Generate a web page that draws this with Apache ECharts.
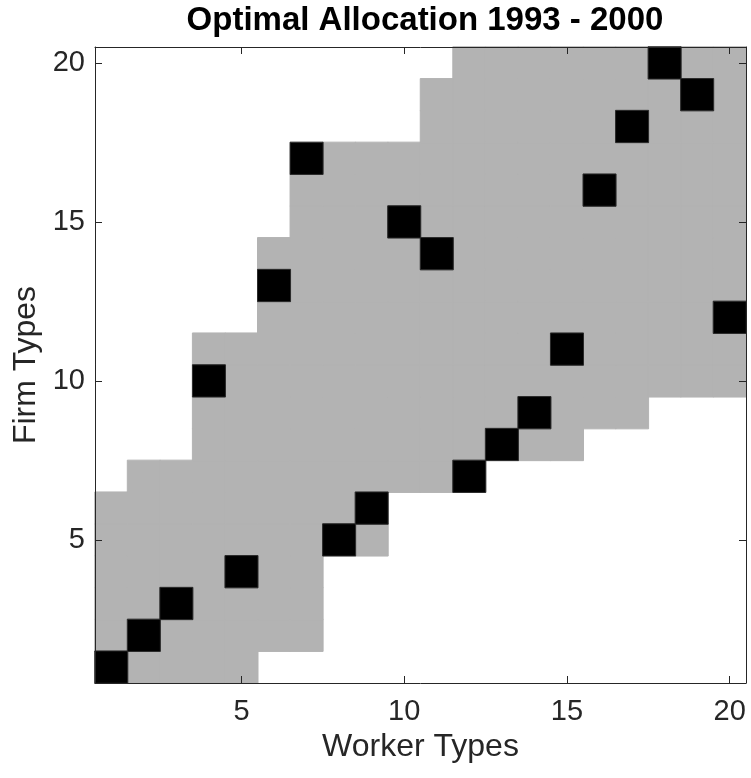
<!DOCTYPE html>
<html>
<head>
<meta charset="utf-8">
<script src="https://cdn.jsdelivr.net/npm/echarts@6/dist/echarts.min.js"></script>
<style>
  html, body { margin: 0; padding: 0; background: #fff; }
  #chart { width: 751px; height: 778px; }
</style>
</head>
<body>
<div id="chart"></div>
<script>
// categories (1..20 on both axes)
const workerTypes = ['1', '2', '3', '4', '5', '6', '7', '8', '9', '10',
  '11', '12', '13', '14', '15', '16', '17', '18', '19', '20']
const firmTypes = ['1', '2', '3', '4', '5', '6', '7', '8', '9', '10',
  '11', '12', '13', '14', '15', '16', '17', '18', '19', '20']

// feasible (grey) firm range per worker type, read column by column
const greyFrom = [1, 1, 1, 1, 1, 2, 2, 5, 5, 7, 7, 7, 8, 8, 8, 9, 9, 10, 10, 10]
const greyTo = [6, 7, 7, 11, 11, 14, 17, 17, 17, 17, 19, 20, 20, 20, 20, 20, 20, 20, 20, 20]

// optimal firm per worker type (black cells)
const matchedFirm = [1, 2, 3, 10, 4, 13, 17, 5, 6, 15, 14, 7, 8, 9, 11, 16, 18, 20, 19, 12]

const tickLabels = ['5', '10', '15', '20']

const greyCells = []
const blackCells = []
workerTypes.forEach((w, i) => {
  for (let f = greyFrom[i]; f <= greyTo[i]; f++) {
    if (f !== matchedFirm[i]) greyCells.push([i, f - 1, 1])
  }
  blackCells.push([i, matchedFirm[i] - 1, 1])
})

const font = 'Liberation Sans, Arial, Helvetica, sans-serif'
const axisColor = '#262626'
const showTick = (idx, val) => tickLabels.indexOf(String(val)) >= 0

const baseAxis = {
  type: 'category',
  z: 5,
  axisLine: { show: true, lineStyle: { color: axisColor, width: 1 } },
  axisTick: {
    show: true,
    inside: true,
    length: 7,
    alignWithLabel: true,
    interval: showTick,
    lineStyle: { color: axisColor }
  },
  splitLine: { show: false }
}

const chart = echarts.init(document.getElementById('chart'))

const option = {
  backgroundColor: '#fff',
  animation: false,
  title: {
    text: 'Optimal Allocation 1993 - 2000',
    left: 420,
    textAlign: 'center',
    top: -1,
    textStyle: { fontFamily: font, fontSize: 33, fontWeight: 'bold', color: '#000' }
  },
  grid: { left: 95, right: 5, top: 47, bottom: 95 },
  xAxis: [
    Object.assign({}, baseAxis, {
      position: 'bottom',
      data: workerTypes,
      name: 'Worker Types',
      nameLocation: 'middle',
      nameGap: 42,
      nameTextStyle: { fontFamily: font, fontSize: 32, color: axisColor },
      axisLabel: {
        interval: showTick,
        margin: 14,
        fontFamily: font,
        fontSize: 29,
        color: axisColor
      }
    }),
    Object.assign({}, baseAxis, {
      position: 'top',
      data: workerTypes,
      axisLabel: { show: false }
    })
  ],
  yAxis: [
    Object.assign({}, baseAxis, {
      position: 'left',
      data: firmTypes,
      name: 'Firm Types',
      nameLocation: 'middle',
      nameGap: 52,
      nameTextStyle: { fontFamily: font, fontSize: 32, color: axisColor },
      axisLabel: {
        interval: showTick,
        margin: 10,
        fontFamily: font,
        fontSize: 29,
        color: axisColor
      }
    }),
    Object.assign({}, baseAxis, {
      position: 'right',
      data: firmTypes,
      axisLabel: { show: false }
    })
  ],
  series: [
    {
      name: 'feasible',
      type: 'heatmap',
      xAxisIndex: 0,
      yAxisIndex: 0,
      data: greyCells,
      itemStyle: { color: '#b3b3b3', borderColor: '#b3b3b3', borderWidth: 1 },
      emphasis: { disabled: true }
    },
    {
      name: 'optimal',
      type: 'heatmap',
      xAxisIndex: 0,
      yAxisIndex: 0,
      data: blackCells,
      itemStyle: { color: '#000000', borderColor: '#2a2a2a', borderWidth: 1 },
      emphasis: { disabled: true }
    }
  ]
}

chart.setOption(option)
</script>
</body>
</html>
